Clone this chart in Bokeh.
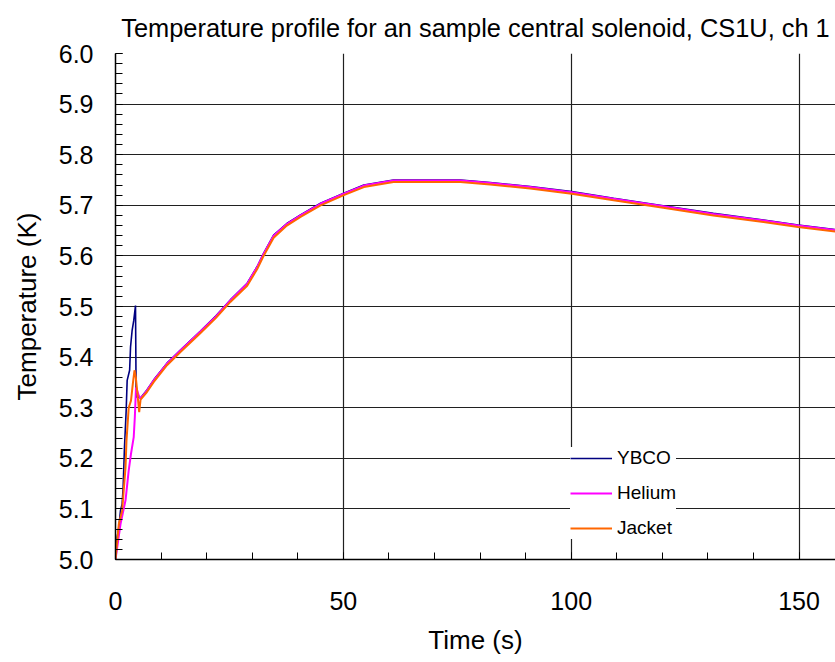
from bokeh.plotting import figure
from bokeh.models import Range1d, FixedTicker, NumeralTickFormatter, Legend, LegendItem
from bokeh.embed import file_html
from bokeh.resources import INLINE

# ---- data ----
title_text = "Temperature profile for an sample central solenoid, CS1U, ch 1"
x_label = "Time (s)"
y_label = "Temperature (K)"
series_names = ["YBCO", "Helium", "Jacket"]

# early transient (0 - 5.5 s)
ybco_t_early = [0.0, 0.37, 0.73, 1.1, 1.46, 1.68, 1.97, 2.34, 2.56, 3.1, 3.3, 3.65, 4.0, 4.39, 4.53, 4.9]
ybco_T_early = [5.0, 5.044, 5.064, 5.097, 5.11, 5.143, 5.222, 5.294, 5.354, 5.374, 5.42, 5.453, 5.472, 5.502, 5.321, 5.321]

helium_t_early = [0.0, 1.1, 2.2, 2.9, 3.4, 4.0, 4.24, 4.5, 4.75, 5.1]
helium_T_early = [5.0, 5.07, 5.117, 5.176, 5.209, 5.242, 5.281, 5.34, 5.334, 5.324]

jacket_t_early = [0.0, 0.73, 1.46, 2.2, 2.41, 2.9, 3.4, 3.8, 4.17, 4.46, 4.75, 5.2]
jacket_T_early = [5.0, 5.07, 5.097, 5.182, 5.235, 5.30, 5.314, 5.347, 5.374, 5.36, 5.334, 5.291]

# main course (5.5 - 158 s)
time_main = [5.5, 6.9, 8.4, 11.3, 14.25, 18.6, 22.0, 25.2, 28.9, 31.1, 32.5, 34.7, 37.6,
             40.6, 45.0, 50.1, 54.5, 61.0, 75.7, 82.2, 91.0, 100.1, 109.3, 120.2, 131.2,
             142.2, 149.8, 158.0]
ybco_T_main = [5.319, 5.335, 5.355, 5.388, 5.414, 5.451, 5.481, 5.513, 5.546, 5.579, 5.605, 5.641, 5.664,
               5.681, 5.704, 5.724, 5.740, 5.750, 5.750, 5.745, 5.737, 5.727, 5.714, 5.699, 5.684,
               5.671, 5.661, 5.652]
helium_T_main = [5.318, 5.334, 5.354, 5.387, 5.413, 5.450, 5.480, 5.512, 5.545, 5.578, 5.604, 5.640, 5.663,
                 5.680, 5.703, 5.723, 5.739, 5.749, 5.749, 5.744, 5.736, 5.726, 5.713, 5.698, 5.683,
                 5.670, 5.660, 5.651]
jacket_T_main = [5.316, 5.331, 5.351, 5.384, 5.410, 5.447, 5.477, 5.509, 5.541, 5.574, 5.600, 5.636, 5.660,
                 5.677, 5.700, 5.720, 5.736, 5.746, 5.746, 5.741, 5.733, 5.723, 5.710, 5.695, 5.680,
                 5.667, 5.657, 5.648]

x_major = [0, 50, 100, 150]
x_minor = list(range(0, 160, 10))
y_major = [5.0, 5.1, 5.2, 5.3, 5.4, 5.5, 5.6, 5.7, 5.8, 5.9, 6.0]
y_minor = [round(5.0 + 0.02 * i, 2) for i in range(51)]

FONT = "Liberation Sans"

p = figure(width=835, height=662, output_backend="svg", toolbar_location=None,
           x_range=Range1d(0, 158), y_range=Range1d(5.0, 6.0),
           min_border_left=115, min_border_right=0, min_border_top=53, min_border_bottom=103)
p.outline_line_color = None
p.background_fill_color = "white"
p.border_fill_color = "white"

p.title.text = title_text
p.title.align = "center"
p.title.vertical_align = "middle"
p.title.text_font = FONT
p.title.text_font_size = "25.4px"
p.title.text_font_style = "normal"
p.title.text_color = "black"
p.title.standoff = 21

# axes
for ax in (p.xaxis[0], p.yaxis[0]):
    ax.axis_line_color = "black"
    ax.axis_line_width = 1.5
    ax.major_tick_in = 7
    ax.major_tick_out = 0
    ax.minor_tick_in = 7
    ax.minor_tick_out = 0
    ax.major_tick_line_color = "black"
    ax.minor_tick_line_color = "black"
    ax.major_label_text_font = FONT
    ax.major_label_text_font_size = "25px"
    ax.major_label_text_color = "black"
    ax.axis_label_text_font = FONT
    ax.axis_label_text_font_size = "26px"
    ax.axis_label_text_font_style = "normal"
    ax.axis_label_text_color = "black"

p.xaxis.ticker = FixedTicker(ticks=x_major, minor_ticks=x_minor)
p.yaxis.ticker = FixedTicker(ticks=y_major, minor_ticks=y_minor)
p.yaxis.formatter = NumeralTickFormatter(format="0.0")
p.xaxis.axis_label = x_label
p.yaxis.axis_label = y_label
p.xaxis.major_label_standoff = 32
p.yaxis.major_label_standoff = 22
p.xaxis.axis_label_standoff = 12
p.yaxis.axis_label_standoff = 14

p.xgrid.ticker = FixedTicker(ticks=[50, 100, 150])
p.ygrid.ticker = FixedTicker(ticks=y_major)
for g in (p.xgrid[0], p.ygrid[0]):
    g.grid_line_color = "#202020"
    g.grid_line_width = 1.2

r_y = p.line(ybco_t_early + time_main, ybco_T_early + ybco_T_main, line_color="#000080", line_width=1.6)
r_h = p.line(helium_t_early + time_main, helium_T_early + helium_T_main, line_color="#FF00FF", line_width=2)
r_j = p.line(jacket_t_early + time_main, jacket_T_early + jacket_T_main, line_color="#FF6600", line_width=2)

legend = Legend(items=[LegendItem(label=series_names[0], renderers=[r_y]),
                       LegendItem(label=series_names[1], renderers=[r_h]),
                       LegendItem(label=series_names[2], renderers=[r_j])],
                location=(455, 20))
legend.border_line_color = None
legend.background_fill_color = "white"
legend.background_fill_alpha = 1.0
legend.label_text_font = FONT
legend.label_text_font_size = "19px"
legend.label_text_color = "black"
legend.glyph_width = 42
legend.glyph_height = 20
legend.label_height = 20
legend.label_standoff = 5
legend.spacing = 13
legend.padding = 6
legend.margin = 0
p.add_layout(legend, "center")

open("out.html", "w").write(file_html(p, INLINE))
